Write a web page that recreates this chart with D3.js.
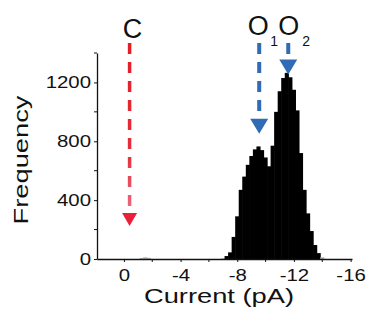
<!DOCTYPE html>
<html>
<head>
<meta charset="utf-8">
<script src="https://cdn.jsdelivr.net/npm/d3@7"></script>
<style>
  body { margin: 0; background: #fff; }
  text { font-family: "Liberation Sans", Arial, sans-serif; fill: #111; }
</style>
</head>
<body>
<div id="chart"></div>
<script>
//histogram bins (current in pA, bin centre) and counts
var binCenters = [-1.25, -1.5, -1.75,
  -7.0, -7.25, -7.5, -7.75, -8.0, -8.25, -8.5, -8.75, -9.0, -9.25, -9.5, -9.75,
  -10.0, -10.25, -10.5, -10.75, -11.0, -11.25, -11.5, -11.75, -12.0, -12.25,
  -12.5, -12.75, -13.0, -13.25, -13.5, -13.75, -14.0];
var counts = [6, 12, 8,
  5, 20, 45, 150, 290, 470, 560, 640, 700, 745, 765, 740,
  690, 630, 770, 1000, 1140, 1230, 1265, 1235, 1150, 1010,
  720, 470, 310, 190, 95, 40, 12];
var binWidth = 0.25;

//tick values
var xMajorTicks = [0, -4, -8, -12, -16];
var xMinorTicks = [-2, -6, -10, -14];
var yMajorTicks = [0, 400, 800, 1200];
var yMinorTicks = [200, 600, 1000, 1400];

//state arrows: label, subscript, current, frequency at tip
var arrowLabels = ["C", "O", "O"];
var arrowSubs = ["", "1", "2"];
var arrowCurrents = [-0.4, -9.55, -11.6];
var arrowTips = [225, 852, 1254];
var arrowColors = ["red", "blue", "blue"];

var svgwdth = 368;
var svghght = 318;

var svg = d3.select("#chart")
  .append("svg")
  .attr("width", svgwdth)
  .attr("height", svghght);

var xScale = d3.scaleLinear().domain([1.9, -16.1]).range([97, 352]);
var yScale = d3.scaleLinear().domain([0, 1400]).range([259, 53]);

//gradient for the red (closed) arrow, it fades towards the bottom
var defs = svg.append("defs");
var grad = defs.append("linearGradient")
  .attr("id", "redFade")
  .attr("gradientUnits", "userSpaceOnUse")
  .attr("x1", 0).attr("y1", 40).attr("x2", 0).attr("y2", 215);
grad.append("stop").attr("offset", 0).attr("stop-color", "#e31c25");
grad.append("stop").attr("offset", 0.65).attr("stop-color", "#e3303c");
grad.append("stop").attr("offset", 1).attr("stop-color", "#ec6f86");

//histogram bars
svg.append("g")
  .selectAll("rect")
  .data(binCenters)
  .enter()
  .append("rect")
  .attr("x", (d) => xScale(d + binWidth / 2) - 0.3)
  .attr("width", (d) => xScale(d - binWidth / 2) - xScale(d + binWidth / 2) + 0.6)
  .attr("y", (d, i) => yScale(counts[i]))
  .attr("height", (d, i) => yScale(0) - yScale(counts[i]))
  .attr("fill", (d, i) => counts[i] < 15 ? "#b5b5b5" : "#000");

//axes
var xAxis = svg.append("g")
  .attr("transform", `translate(0, ${yScale(0)})`)
  .call(d3.axisBottom(xScale).tickValues(xMajorTicks).tickSize(3).tickSizeOuter(0)
    .tickFormat((d) => String(d)));
xAxis.append("g").selectAll("line")
  .data(xMinorTicks).enter().append("line")
  .attr("x1", (d) => xScale(d)).attr("x2", (d) => xScale(d))
  .attr("y1", 0).attr("y2", 3)
  .attr("stroke", "#111");
xAxis.selectAll(".tick text")
  .attr("y", 10)
  .style("font-size", "17px")
  .attr("transform", "scale(1.2,1)");

var yAxis = svg.append("g")
  .attr("transform", `translate(${xScale.range()[0]}, 0)`)
  .call(d3.axisLeft(yScale).tickValues(yMajorTicks).tickSize(3).tickSizeOuter(0)
    .tickFormat(d3.format("d")));
yAxis.append("g").selectAll("line")
  .data(yMinorTicks).enter().append("line")
  .attr("y1", (d) => yScale(d)).attr("y2", (d) => yScale(d))
  .attr("x1", 0).attr("x2", -3)
  .attr("stroke", "#111");
yAxis.selectAll(".tick text")
  .style("font-size", "17px")
  .attr("x", -5)
  .attr("transform", "scale(1.2,1)");

svg.selectAll(".domain").attr("stroke", "#111").attr("stroke-width", 1.3);
svg.selectAll(".tick line").attr("stroke", "#111");

//axis titles
svg.append("text")
  .attr("transform", "translate(219, 303) scale(1.3,1)")
  .attr("text-anchor", "middle")
  .style("font-size", "21px")
  .text("Current (pA)");

svg.append("text")
  .attr("transform", "translate(28, 160) rotate(-90) scale(1.3,1)")
  .attr("text-anchor", "middle")
  .style("font-size", "21px")
  .text("Frequency");

//dashed arrows with state labels
var lineTop = 43;
arrowCurrents.forEach((c, i) => {
  var ax = xScale(c);
  var tipY = yScale(arrowTips[i]);
  var isRed = arrowColors[i] === "red";
  var col = isRed ? "url(#redFade)" : "#2f6cb5";
  var half = isRed ? 7.5 : 9;
  var triH = isRed ? 13 : 15;
  var triFill = isRed ? "#e8203a" : "#2f6cb5";

  svg.append("line")
    .attr("x1", ax).attr("x2", ax)
    .attr("y1", lineTop).attr("y2", tipY - triH)
    .attr("stroke", col)
    .attr("stroke-width", isRed ? 3.5 : 4)
    .attr("stroke-dasharray", "11,8");

  svg.append("path")
    .attr("d", `M${ax - half},${tipY - triH}L${ax + half},${tipY - triH}L${ax},${tipY}Z`)
    .attr("fill", triFill);
});

//state labels
svg.append("text")
  .attr("x", xScale(arrowCurrents[0]) + 3)
  .attr("y", 38)
  .attr("text-anchor", "middle")
  .style("font-size", "27px")
  .text(arrowLabels[0]);

[1, 2].forEach((i) => {
  var ax = xScale(arrowCurrents[i]);
  svg.append("text")
    .attr("x", ax - 1 + (i - 1) * 1.5)
    .attr("y", 35)
    .attr("text-anchor", "middle")
    .style("font-size", "27px")
    .text(arrowLabels[i]);
  svg.append("text")
    .attr("x", ax + 15 + (i - 1) * 3)
    .attr("y", 46)
    .attr("text-anchor", "middle")
    .style("font-size", "14px")
    .text(arrowSubs[i]);
});
</script>
</body>
</html>
